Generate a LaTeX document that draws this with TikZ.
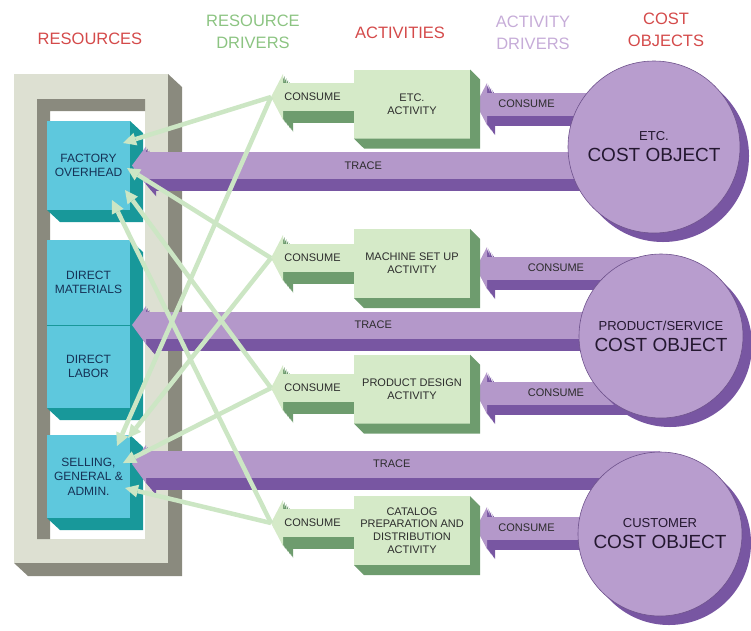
\documentclass[tikz,border=0pt]{standalone}
\usepackage{fontspec}
\setmainfont{Liberation Sans}
\usetikzlibrary{arrows.meta,shadows}
\pgfdeclarelayer{base}
\pgfdeclarelayer{arrows}
\pgfdeclarelayer{top}
\pgfsetlayers{base,arrows,main,top}

\definecolor{framelight}{RGB}{221,224,210}
\definecolor{framedark}{RGB}{138,138,126}
\definecolor{resfront}{RGB}{94,200,221}
\definecolor{resside}{RGB}{24,152,154}
\definecolor{actfront}{RGB}{213,234,200}
\definecolor{actside}{RGB}{110,156,110}
\definecolor{purfront}{RGB}{180,152,202}
\definecolor{purside}{RGB}{120,86,162}
\definecolor{cobfill}{RGB}{184,157,206}
\definecolor{cobline}{RGB}{110,82,140}
\definecolor{drvline}{RGB}{204,230,196}
\definecolor{headred}{RGB}{212,74,74}
\definecolor{headgreen}{RGB}{140,196,130}
\definecolor{headpurple}{RGB}{198,172,216}
\definecolor{restext}{RGB}{22,50,86}
\definecolor{lbltext}{RGB}{44,44,44}
\definecolor{cobtext}{RGB}{36,24,48}

% right and bottom faces of a box node
\newcommand{\sidefaces}[3]{%
  \fill[#3] (#1.north east) -- ++(#2) -- ([shift={(#2)}]#1.south east)
    -- ([shift={(#2)}]#1.south west) -- (#1.south west) -- (#1.south east) -- cycle;}

\begin{document}
\begin{tikzpicture}[x=1pt, y=-1pt,
    every node/.style={inner sep=0pt, outer sep=0pt, align=center,
      font=\fontsize{11}{12.7}\selectfont, text=lbltext},
    header/.style={font=\fontsize{16.5}{22}\selectfont},
    resbox/.style={fill=resfront, minimum width=83pt, text=restext,
      font=\fontsize{12}{14.5}\selectfont},
    actbox/.style={fill=actfront, minimum width=116pt, minimum height=69pt},
    costobj/.style={circle, fill=cobfill, draw=cobline, line width=0.6pt,
      minimum size=#1, text=cobtext, font=\fontsize{19}{21}\selectfont,
      general shadow={fill=purside, shadow xshift=9pt, shadow yshift=-9pt}},
    gcons/.style={line width=28pt, actfront,
      -{Triangle[length=12pt, width=46pt, line width=0pt]}},
    pcons/.style={line width=23pt, purfront,
      -{Triangle[length=11pt, width=42pt, line width=0pt]}},
    tracearrow/.style={line width=27pt, purfront,
      -{Triangle[length=14pt, width=38pt, line width=0pt]}},
    driver/.style={line width=4.5pt, drvline,
      -{Triangle[length=13pt, width=13pt, line width=0pt]}}
  ]
    \useasboundingbox (0,0) rectangle (751,630);

    % resources frame and boxes
    \begin{pgfonlayer}{base}
        \node[fill=framelight, minimum width=154pt, minimum height=489pt] (frame) at (91,318.5) {};
        \sidefaces{frame}{14,13}{framedark}
        \fill[white] (37,99) rectangle (145,539);
        \fill[framedark] (37,99) -- (145,99) -- (145,111) -- (50,111) -- (50,539) -- (37,539) -- cycle;
        \node[resbox, minimum height=89pt] (fo) at (88.5,165.5) {FACTORY\\OVERHEAD};
        \sidefaces{fo}{13,12}{resside}
        \node[resbox, minimum height=85pt] (dm) at (88.5,282.5) {DIRECT\\MATERIALS};
        \sidefaces{dm}{13,12}{resside}
        \node[resbox, minimum height=83pt] (dl) at (88.5,366.5) {DIRECT\\LABOR};
        \sidefaces{dl}{13,12}{resside}
        \draw[resside, line width=1pt] (dl.north west) -- (dl.north east);
        \node[resbox, minimum height=83pt] (sga) at (88.5,476.5) {SELLING,\\GENERAL \&\\ADMIN.};
        \sidefaces{sga}{13,12}{resside}
    \end{pgfonlayer}

    % activities
    \node[actbox] (a1) at (412,104) {ETC.\\ACTIVITY};
    \sidefaces{a1}{10,10}{actside}
    \node[actbox] (a2) at (412,263.5) {MACHINE SET UP\\ACTIVITY};
    \sidefaces{a2}{10,10}{actside}
    \node[actbox] (a3) at (412,389) {PRODUCT DESIGN\\ACTIVITY};
    \sidefaces{a3}{10,10}{actside}
    \node[actbox] (a4) at (412,530.5) {CATALOG\\PREPARATION AND\\DISTRIBUTION\\ACTIVITY};
    \sidefaces{a4}{10,10}{actside}

    % cost objects
    \node[costobj=172pt] (co1) at (654,147) {{\fontsize{13}{15}\selectfont ETC.}\\COST OBJECT};
    \node[costobj=164pt] (co2) at (661,336) {{\fontsize{13}{15}\selectfont PRODUCT/SERVICE}\\COST OBJECT};
    \node[costobj=164pt] (co3) at (660,534) {{\fontsize{13}{15}\selectfont CUSTOMER}\\COST OBJECT};

    % arrow ends
    \coordinate (r1) at ([xshift=2pt]fo.east);
    \coordinate (r2) at ([xshift=2pt]dm.south east);
    \coordinate (r3) at ([shift={(2,-12.5)}]sga.east);
    \coordinate (p1) at ([xshift=6pt]a1.east);
    \coordinate (p2) at ([shift={(6,4.5)}]a2.east);
    \coordinate (p3) at ([shift={(6,4)}]a3.east);
    \coordinate (p4) at ([shift={(6,-2.5)}]a4.east);
    \coordinate (t1) at (271,97);
    \coordinate (t2) at (271,258);
    \coordinate (t3) at (271,388);
    \coordinate (t4) at (271,523);

    \begin{pgfonlayer}{arrows}
        % trace
        \foreach \c/\r/\q in {co1/r1/0.557, co2/r2/0.544, co3/r3/0.508}{
            \foreach \k in {1,...,6}
                \draw[tracearrow, purside, transform canvas={shift={(\k*1.7,\k*2)}}] (\c |- \r) -- (\r);
            \draw[tracearrow] (\c |- \r) -- (\r) node[pos=\q] {TRACE};
        }
        % activity drivers
        \foreach \c/\p/\q in {co1/p1/0.716, co2/p2/0.568, co2/p3/0.568, co3/p4/0.725}{
            \foreach \k in {1,...,6}
                \draw[pcons, purside, transform canvas={shift={(\k*1.35,\k*1.7)}}] (\c |- \p) -- (\p);
            \draw[pcons] (\c |- \p) -- (\p) node[pos=\q] {CONSUME};
        }
        % resource consumption
        \foreach \a/\t in {a1/t1, a2/t2, a3/t3, a4/t4}{
            \foreach \k in {1,...,6}
                \draw[gcons, actside, transform canvas={shift={(\k*1.7,\k*2)}}] (\a.west |- \t) -- (\t);
            \draw[gcons] (\a.west |- \t) -- (\t) node[midway] {CONSUME};
        }
    \end{pgfonlayer}

    \begin{pgfonlayer}{top}
        % resource drivers
        \foreach \t/\fx/\fy/\sx/\sy in {t1/-7/22/-13/11, t2/-3/47/-2/3, t3/-5/69/-7/28, t4/-18/79/-5/53}{
            \draw[driver] (\t) -- ([shift={(\fx,\fy)}]fo.north east);
            \draw[driver] (\t) -- ([shift={(\sx,\sy)}]sga.north east);
        }
        % headers
        \node[header, text=headred] (hres) at (90,39) {RESOURCES};
        \node[header, text=headgreen] (hrdrv) at (253,32) {RESOURCE\\DRIVERS};
        \node[header, text=headred] (hact) at (400,33) {ACTIVITIES};
        \node[header, text=headpurple] (hadrv) at (533,33) {ACTIVITY\\DRIVERS};
        \node[header, text=headred] (hcost) at (666,30) {COST\\OBJECTS};
    \end{pgfonlayer}
\end{tikzpicture}
\end{document}
